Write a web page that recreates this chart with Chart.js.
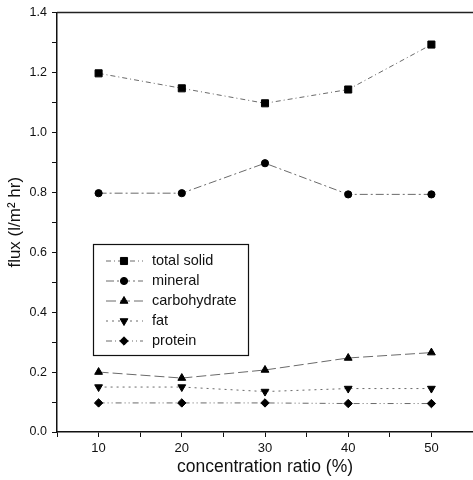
<!DOCTYPE html>
<html>
<head>
<meta charset="utf-8">
<script src="https://cdn.jsdelivr.net/npm/chart.js@4.4.1/dist/chart.umd.min.js"></script>
<style>
  html, body { margin: 0; padding: 0; background: #fff; overflow: hidden; }
  canvas { display: block; }
</style>
</head>
<body>
<canvas id="fluxChart" width="473" height="480"></canvas>
<script>
// --- Data ---
const ratios = [10, 20, 30, 40, 50];
const totalSolid = [1.197, 1.147, 1.097, 1.143, 1.293];
const mineral = [0.797, 0.797, 0.897, 0.793, 0.793];
const carbohydrate = [0.2, 0.18, 0.207, 0.247, 0.265];
const fat = [0.15, 0.15, 0.135, 0.145, 0.145];
const protein = [0.097, 0.097, 0.097, 0.095, 0.095];
const yTicks = [0, 0.2, 0.4, 0.6, 0.8, 1.0, 1.2, 1.4];
const xTicks = [10, 20, 30, 40, 50];

const FONT = "'Liberation Sans', Arial, sans-serif";
const LINE = '#6a6a6a';

function pts(vals) {
    return ratios.map((r, i) => ({ x: r, y: vals[i] }));
}

function series(label, vals, style, radius, dash, rotation) {
    return {
        label: label,
        data: pts(vals),
        borderColor: LINE,
        borderWidth: 1,
        borderDash: dash,
        pointStyle: style,
        pointRotation: rotation || 0,
        pointRadius: radius,
        pointBackgroundColor: '#000',
        pointBorderColor: '#000',
        pointBorderWidth: 1,
        tension: 0,
        fill: false
    };
}

// legend drawn inside the plot, like the original figure
const boxLegend = {
    id: 'boxLegend',
    afterDraw(chart) {
        const ctx = chart.ctx;
        const x0 = 93, y0 = 244, w = 155, h = 111;
        ctx.save();
        ctx.fillStyle = '#fff';
        ctx.fillRect(x0, y0, w, h);
        ctx.strokeStyle = '#111';
        ctx.lineWidth = 1.2;
        ctx.strokeRect(x0 + 0.5, y0 + 0.5, w, h);
        ctx.font = '14.5px ' + FONT;
        ctx.textBaseline = 'middle';
        chart.data.datasets.forEach((ds, i) => {
            const y = y0 + 17 + i * 20;
            ctx.strokeStyle = LINE;
            ctx.lineWidth = 1;
            ctx.setLineDash(ds.borderDash);
            ctx.beginPath();
            ctx.moveTo(106, y);
            ctx.lineTo(143, y);
            ctx.stroke();
            ctx.setLineDash([]);
            ctx.fillStyle = '#000';
            ctx.strokeStyle = '#000';
            Chart.helpers.drawPoint(ctx, {
                pointStyle: ds.pointStyle,
                rotation: ds.pointRotation,
                radius: ds.pointRadius,
                borderWidth: 1
            }, 124, y);
            ctx.fillStyle = '#111';
            ctx.fillText(ds.label, 152, y);
        });
        ctx.restore();
    }
};

// top frame line
const topFrame = {
    id: 'topFrame',
    afterDraw(chart) {
        const a = chart.chartArea;
        const ctx = chart.ctx;
        ctx.save();
        ctx.strokeStyle = '#222';
        ctx.lineWidth = 1.5;
        ctx.beginPath();
        ctx.moveTo(a.left, a.top);
        ctx.lineTo(a.right, a.top);
        ctx.stroke();
        ctx.restore();
    }
};

new Chart(document.getElementById('fluxChart'), {
    type: 'line',
    data: {
        datasets: [
            series('total solid', totalSolid, 'rect', 5, [5, 3, 1, 3]),
            series('mineral', mineral, 'circle', 3.6, [8, 3, 2, 3]),
            series('carbohydrate', carbohydrate, 'triangle', 4.5, [10, 4]),
            series('fat', fat, 'triangle', 4.5, [2, 4], 180),
            series('protein', protein, 'rectRot', 4.2, [6, 3, 1, 3, 1, 3])
        ]
    },
    options: {
        responsive: false,
        animation: false,
        layout: { autoPadding: false, padding: { top: 12, right: 0, left: 0, bottom: 0 } },
        plugins: {
            legend: { display: false },
            tooltip: { enabled: false }
        },
        scales: {
            x: {
                type: 'linear',
                min: 5,
                max: 55,
                afterFit: s => { s.height = 48; s.paddingLeft = 0; s.paddingRight = 0; },
                border: { display: true, color: '#111', width: 1.5 },
                grid: { drawOnChartArea: false, tickLength: 5, color: '#111' },
                ticks: {
                    stepSize: 5,
                    padding: 4,
                    color: '#111',
                    font: { family: FONT, size: 13 },
                    maxRotation: 0,
                    callback: v => xTicks.includes(v) ? String(v) : ''
                },
                title: {
                    display: true,
                    text: 'concentration ratio (%)',
                    color: '#111',
                    font: { family: FONT, size: 17.5 },
                    padding: { top: 0, bottom: 2 }
                }
            },
            y: {
                min: 0,
                max: 1.4,
                afterFit: s => { s.width = 57; },
                border: { display: true, color: '#111', width: 1.5 },
                grid: { drawOnChartArea: false, tickLength: 5, color: '#111' },
                ticks: {
                    stepSize: 0.1,
                    padding: 5,
                    color: '#111',
                    font: { family: FONT, size: 12.5 },
                    callback: v => {
                        const r = Math.round(v * 10) / 10;
                        return yTicks.some(t => Math.abs(t - r) < 1e-6) ? r.toFixed(1) : '';
                    }
                },
                title: {
                    display: true,
                    text: 'flux (l/m\u00B2 hr)',
                    color: '#111',
                    font: { family: FONT, size: 17 },
                    padding: { top: 5, bottom: 0 }
                }
            }
        }
    },
    plugins: [boxLegend, topFrame]
});
</script>
</body>
</html>
